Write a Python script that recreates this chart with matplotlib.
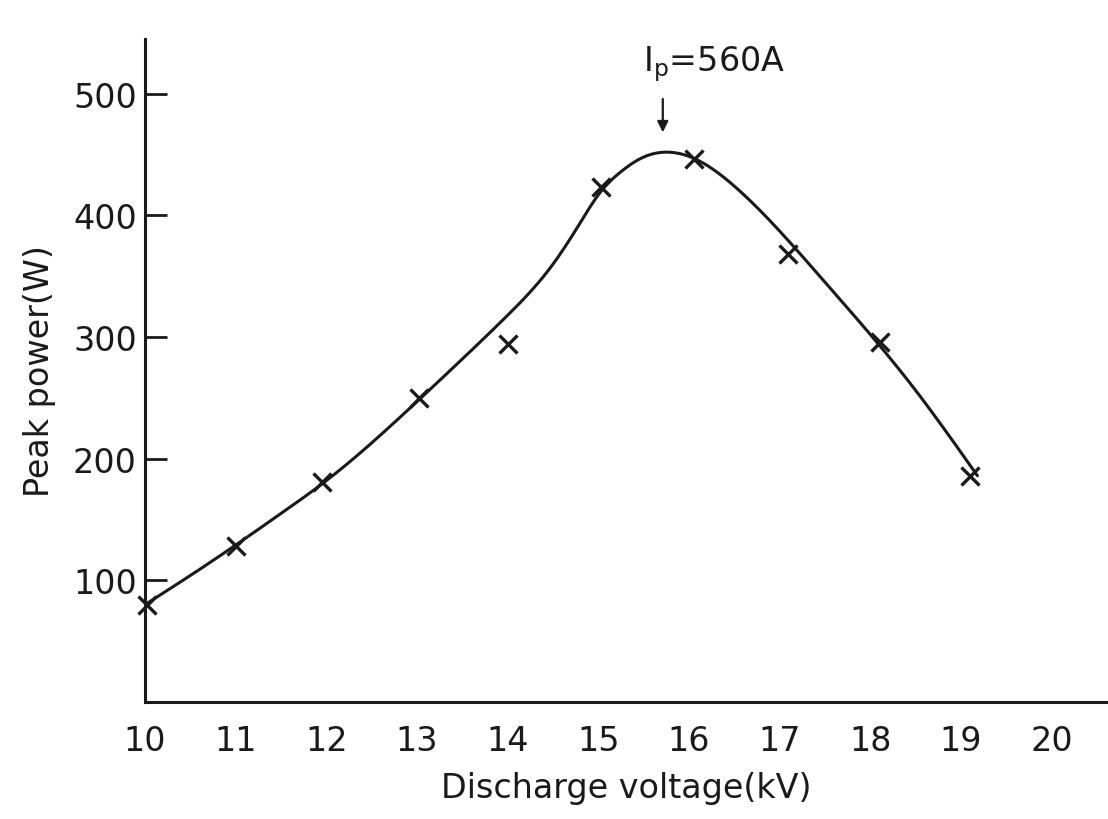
import numpy as np
import matplotlib
matplotlib.use('Agg')
import matplotlib.pyplot as plt

# measured points (crosses)
volt_kv = [10.02, 11.0, 11.95, 13.02, 14.0, 15.03, 16.05, 17.09, 18.1, 19.1]
power_w = [80, 128, 181, 250, 294, 423, 446, 368, 296, 186]

# hand-drawn curve
curve_kv = [10.0, 10.5, 11.0, 11.5, 12.0, 12.5, 13.0, 13.5, 14.0, 14.5,
            14.8, 15.0, 15.25, 15.5, 15.75, 16.05, 16.5, 17.0, 17.5, 18.0,
            18.5, 19.18]
curve_w = [80, 104, 129, 155, 182, 213, 247, 282, 318, 360,
           394, 417, 436, 448, 452, 447, 424, 387, 345, 302,
           256, 186]

xticks = list(range(10, 21))
yticks = [100, 200, 300, 400, 500]


def natural_spline(x, y, xs):
    # smooth cubic through the read-off curve points
    x = np.asarray(x, float)
    y = np.asarray(y, float)
    n = len(x)
    h = np.diff(x)
    A = np.zeros((n, n))
    b = np.zeros(n)
    A[0, 0] = A[-1, -1] = 1
    for i in range(1, n - 1):
        A[i, i - 1] = h[i - 1]
        A[i, i] = 2 * (h[i - 1] + h[i])
        A[i, i + 1] = h[i]
        b[i] = 3 * ((y[i + 1] - y[i]) / h[i] - (y[i] - y[i - 1]) / h[i - 1])
    c = np.linalg.solve(A, b)
    k = np.clip(np.searchsorted(x, xs) - 1, 0, n - 2)
    dx = xs - x[k]
    bb = (y[k + 1] - y[k]) / h[k] - h[k] * (2 * c[k] + c[k + 1]) / 3
    d = (c[k + 1] - c[k]) / (3 * h[k])
    return y[k] + bb * dx + c[k] * dx ** 2 + d * dx ** 3


plt.rcParams['font.family'] = ['DejaVu Sans']

fig = plt.figure(figsize=(11.08, 8.2), dpi=100)
ax = fig.add_axes([0.1309, 0.1427, 0.8691, 0.8085])

xs = np.linspace(curve_kv[0], curve_kv[-1], 500)
ax.plot(xs, natural_spline(curve_kv, curve_w, xs), color='#1a1a1a', lw=2.2,
        solid_capstyle='round')
ax.plot(volt_kv, power_w, ls='none', marker='x', ms=13, mew=2.4,
        color='#1a1a1a', clip_on=False)

ax.annotate('', xy=(15.71, 466), xytext=(15.71, 498),
            arrowprops=dict(arrowstyle='-|>', color='#1a1a1a', lw=1.6,
                            mutation_scale=16))
ax.text(15.49, 525, r'I$_\mathregular{p}$=560A', fontsize=24, ha='left',
        va='center', color='#1a1a1a')

ax.set_xlim(10, 20.62)
ax.set_ylim(0, 545)
ax.set_xticks(xticks)
ax.set_yticks(yticks)
ax.tick_params(axis='x', length=0, pad=16, labelsize=24, colors='#1a1a1a')
ax.tick_params(axis='y', direction='in', length=16, width=2, pad=6,
               labelsize=24, colors='#1a1a1a')
for s in ['top', 'right']:
    ax.spines[s].set_visible(False)
for s in ['left', 'bottom']:
    ax.spines[s].set_linewidth(2.2)
    ax.spines[s].set_color('#1a1a1a')

ax.set_xlabel('Discharge voltage(kV)', fontsize=24, labelpad=10, color='#1a1a1a')
ax.set_ylabel('Peak power(W)', fontsize=24, labelpad=12, color='#1a1a1a')

fig.savefig('out.png', dpi=100)
